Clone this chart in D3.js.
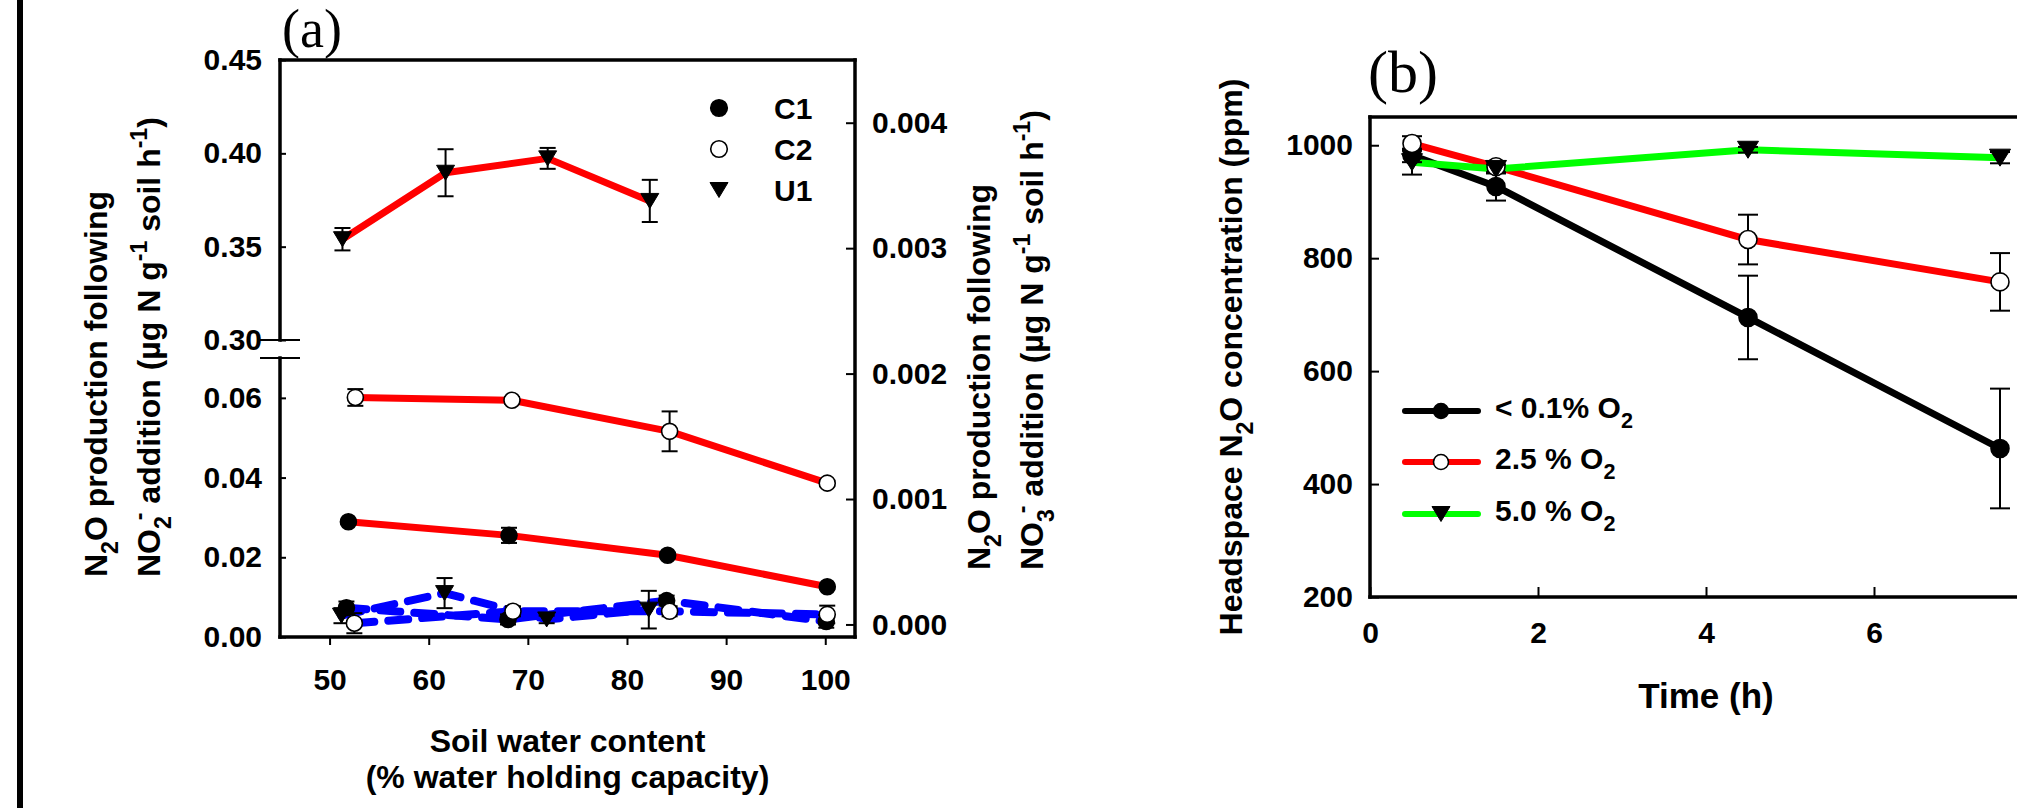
<!DOCTYPE html>
<html><head><meta charset="utf-8">
<script src="https://cdn.jsdelivr.net/npm/d3@7"></script>
<style>
html,body{margin:0;padding:0;background:#fff;overflow:hidden}
svg{display:block}
text{font-family:"Liberation Sans",Arial,Helvetica,sans-serif;font-weight:bold;fill:#000}
</style></head><body>
<svg id="chart" width="2017" height="808"></svg>
<script>
// ---------------- DATA : panel (a) ----------------
const xTicksA = [50, 60, 70, 80, 90, 100];
const yTicksUpper = [0.30, 0.35, 0.40, 0.45];
const yTicksLower = [0.00, 0.02, 0.04, 0.06];
const yTicksRight = [0.000, 0.001, 0.002, 0.003, 0.004];
const legendA = ["C1", "C2", "U1"];

// N2O following NO2- addition (left axis, red solid)
const no2C1x = [51.9, 68.1, 84.1, 100.2];
const no2C1y = [0.0289, 0.0255, 0.0205, 0.0126];
const no2C1e = [0.0005, 0.0019, 0.0006, 0.0005];
const no2C2x = [52.6, 68.4, 84.3, 100.2];
const no2C2y = [0.0601, 0.0594, 0.0516, 0.0386];
const no2C2e = [0.0021, 0.0008, 0.0050, 0.0006];
const no2U1x = [51.3, 61.7, 72.0, 82.3];
const no2U1y = [0.354, 0.3896, 0.3973, 0.3745];
const no2U1e = [0.0060, 0.0126, 0.0056, 0.0113];

// N2O following NO3- addition (right axis, blue dashed)
const no3C1x = [51.7, 68.0, 84.0, 100.1];
const no3C1y = [0.000133, 0.00004, 0.00019, 0.000024];
const no3C1e = [0.00005, 0.00004, 0.00004, 0.00005];
const no3C2x = [52.5, 68.5, 84.3, 100.2];
const no3C2y = [0.00001, 0.000105, 0.000105, 0.00008];
const no3C2e = [0.00008, 0.00004, 0.00004, 0.00007];
const no3U1x = [51.2, 61.6, 71.9, 82.2];
const no3U1y = [0.00007, 0.00025, 0.00004, 0.000118];
const no3U1e = [0.00006, 0.00012, 0.00003, 0.00015];

// ---------------- DATA : panel (b) ----------------
const xTicksB = [0, 2, 4, 6];
const yTicksB = [200, 400, 600, 800, 1000];
const timeH = [0.5, 1.5, 4.5, 7.5];
const o2Low = [982, 927, 695, 463];
const o2LowErr = [12, 25, 74, 106];
const o2Mid = [1003, 962, 833, 758];
const o2MidErr = [13, 10, 44, 51];
const o2High = [970, 958, 992, 978];
const o2HighErr = [22, 8, 5, 10];
const legendB = [["< 0.1% O", "2"], ["2.5 % O", "2"], ["5.0 % O", "2"]];

// ---------------- DRAWING ----------------
const W = 2017, H = 808;
const svg = d3.select("#chart");
const FONT = 30;

svg.append("rect").attr("x", 17).attr("y", 0).attr("width", 6).attr("height", H).attr("fill", "#000");

function rich(textSel, parts, size) {
  let cur = 0;
  parts.forEach(p => {
    const str = p[0], kind = p[1] || "n", dx = p[2];
    let off = 0, fs = size;
    if (kind === "sub") { off = size * 0.34; fs = size * 0.72; }
    if (kind === "sup") { off = -size * 0.40; fs = size * 0.72; }
    const ts = textSel.append("tspan").text(str).attr("font-size", fs).attr("dy", off - cur);
    if (dx) ts.attr("dx", dx);
    cur = off;
  });
}

const triPath = (w, h) => `M${-w/2},${-h/2}L${w/2},${-h/2}L0,${h/2}Z`;

function drawSeries(g, xs, ys, es, xScale, yScale, opt) {
  const pts = xs.map((x, i) => ({x, y: ys[i], e: es[i]}));
  const line = d3.line().x(d => xScale(d.x)).y(d => yScale(d.y));
  const path = g.append("path").datum(pts).attr("d", line)
    .attr("fill", "none").attr("stroke", opt.color).attr("stroke-width", opt.lw)
    .attr("stroke-linejoin", "round");
  if (opt.dash) path.attr("stroke-dasharray", opt.dash).attr("stroke-linecap", "round");
  return pts;
}
function drawErr(g, pts, xScale, yScale, cap) {
  const eg = g.append("g").attr("stroke", "#000").attr("stroke-width", 2);
  pts.forEach(d => {
    const x = xScale(d.x), y1 = yScale(d.y - d.e), y2 = yScale(d.y + d.e);
    eg.append("line").attr("x1", x).attr("x2", x).attr("y1", y1).attr("y2", y2);
    eg.append("line").attr("x1", x - cap/2).attr("x2", x + cap/2).attr("y1", y1).attr("y2", y1);
    eg.append("line").attr("x1", x - cap/2).attr("x2", x + cap/2).attr("y1", y2).attr("y2", y2);
  });
}
function drawMarkers(g, pts, xScale, yScale, type, sz) {
  pts.forEach(d => appendMarker(g, xScale(d.x), yScale(d.y), type, sz));
}
function appendMarker(g, x, y, type, sz) {
  if (type === "tri") {
    g.append("path").attr("d", triPath(sz.tw, sz.th)).attr("transform", `translate(${x},${y})`)
      .attr("fill", "#000").attr("stroke", "#000").attr("stroke-width", 1);
  } else {
    g.append("circle").attr("cx", x).attr("cy", y).attr("r", sz.r)
      .attr("fill", type === "open" ? "#fff" : "#000").attr("stroke", "#000").attr("stroke-width", 1.6);
  }
}

// ======== Panel (a) ========
const aL = 280, aR = 855, aT = 60, aB = 637, brTop = 340, brBot = 358;
const xA = d3.scaleLinear().domain([45, 103]).range([aL, aR]);
const yUp = d3.scaleLinear().domain([0.30, 0.45]).range([brTop, aT]);
const yLo = d3.scaleLinear().domain([0, 0.07]).range([aB, brBot]);
const yR = d3.scaleLinear().domain([-0.0001, 0.0045]).range([aB, aT]);

const ga = svg.append("g");
function styleAxis(sel) {
  sel.select(".domain").remove();
  sel.selectAll(".tick line").attr("stroke", "#000").attr("stroke-width", 2);
  sel.selectAll(".tick text").attr("font-size", FONT).attr("font-family", null).attr("fill", "#000");
}
ga.append("g").attr("transform", `translate(0,${aB})`)
  .call(d3.axisBottom(xA).tickValues(xTicksA).tickSizeInner(8).tickSizeOuter(0).tickPadding(24))
  .call(styleAxis);
ga.append("g").attr("transform", `translate(${aL},0)`)
  .call(d3.axisLeft(yUp).tickValues(yTicksUpper).tickSizeInner(-6).tickSizeOuter(0).tickPadding(18).tickFormat(d3.format(".2f")))
  .call(styleAxis);
ga.append("g").attr("transform", `translate(${aL},0)`)
  .call(d3.axisLeft(yLo).tickValues(yTicksLower).tickSizeInner(-6).tickSizeOuter(0).tickPadding(18).tickFormat(d3.format(".2f")))
  .call(styleAxis);
ga.append("g").attr("transform", `translate(${aR},0)`)
  .call(d3.axisRight(yR).tickValues(yTicksRight).tickSizeInner(-9).tickSizeOuter(0).tickPadding(17).tickFormat(d3.format(".3f")))
  .call(styleAxis);

// frame with axis break
const fr = ga.append("g").attr("stroke", "#000").attr("stroke-width", 3.5).attr("stroke-linecap", "square");
fr.append("line").attr("x1", aL).attr("x2", aR).attr("y1", aT).attr("y2", aT);
fr.append("line").attr("x1", aR).attr("x2", aR).attr("y1", aT).attr("y2", aB);
fr.append("line").attr("x1", aL).attr("x2", aR).attr("y1", aB).attr("y2", aB);
fr.append("line").attr("x1", aL).attr("x2", aL).attr("y1", yUp.range()[1]).attr("y2", yUp.range()[0]);
fr.append("line").attr("x1", aL).attr("x2", aL).attr("y1", yLo.range()[1]).attr("y2", yLo.range()[0]);
const bk = ga.append("g").attr("stroke", "#000").attr("stroke-width", 2);
[yUp.range()[0], yLo.range()[1]].forEach(y => bk.append("line").attr("x1", aL - 20).attr("x2", aL + 20).attr("y1", y).attr("y2", y));

// series
const lines = ga.append("g");
const pC1 = drawSeries(lines, no2C1x, no2C1y, no2C1e, xA, yLo, {color: "#ff0000", lw: 7});
const pC2 = drawSeries(lines, no2C2x, no2C2y, no2C2e, xA, yLo, {color: "#ff0000", lw: 7});
const pU1 = drawSeries(lines, no2U1x, no2U1y, no2U1e, xA, yUp, {color: "#ff0000", lw: 7});
const dash = "20,14";
const qC1 = drawSeries(lines, no3C1x, no3C1y, no3C1e, xA, yR, {color: "#0000ff", lw: 8, dash});
const qC2 = drawSeries(lines, no3C2x, no3C2y, no3C2e, xA, yR, {color: "#0000ff", lw: 8, dash});
const qU1 = drawSeries(lines, no3U1x, no3U1y, no3U1e, xA, yR, {color: "#0000ff", lw: 8, dash});
const errs = ga.append("g");
[[pC1, yLo], [pC2, yLo], [pU1, yUp], [qC1, yR], [qC2, yR], [qU1, yR]].forEach(([p, ys]) => drawErr(errs, p, xA, ys, 16));
const mk = ga.append("g");
const szA = {r: 8, tw: 18, th: 15};
drawMarkers(mk, pU1, xA, yUp, "tri", szA);
drawMarkers(mk, qU1, xA, yR, "tri", szA);
drawMarkers(mk, pC1, xA, yLo, "fill", szA);
drawMarkers(mk, qC1, xA, yR, "fill", szA);
drawMarkers(mk, pC2, xA, yLo, "open", szA);
drawMarkers(mk, qC2, xA, yR, "open", szA);

// legend (a)
const legAy = [108, 149, 190], legTypes = ["fill", "open", "tri"];
legendA.forEach((name, i) => {
  appendMarker(ga, 719, legAy[i], legTypes[i], {r: 8.3, tw: 18, th: 15});
  ga.append("text").attr("x", 774).attr("y", legAy[i] + 11).attr("font-size", FONT).text(name);
});

// titles (a)
ga.append("text").attr("x", 282).attr("y", 47).attr("font-size", 54)
  .style("font-family", '"Liberation Serif","Times New Roman",serif').style("font-weight", "normal").text("(a)");
const xt = ga.append("text").attr("text-anchor", "middle").attr("font-size", 32);
xt.append("tspan").attr("x", (aL + aR) / 2).attr("y", 752).text("Soil water content");
xt.append("tspan").attr("x", (aL + aR) / 2).attr("y", 788).text("(% water holding capacity)");

function yTitle(x, y, parts) {
  const t = ga.append("text").attr("transform", `translate(${x},${y}) rotate(-90)`).attr("font-size", 32);
  rich(t, parts, 32);
  return t;
}
yTitle(107, 577, [["N"], ["2", "sub"], ["O production following"]]);
yTitle(160, 577, [["NO"], ["2", "sub"], ["-", "sup", -4], [" addition (µg N g"], ["-1", "sup"], [" soil h"], ["-1", "sup"], [")"]]);
yTitle(990, 570, [["N"], ["2", "sub"], ["O production following"]]);
yTitle(1043, 570, [["NO"], ["3", "sub"], ["-", "sup", -4], [" addition (µg N g"], ["-1", "sup"], [" soil h"], ["-1", "sup"], [")"]]);

// ======== Panel (b) ========
const bL = 1370, bR = 2042, bT = 117, bB = 597;
const xB = d3.scaleLinear().domain([0, 8]).range([bL, bR]);
const yB = d3.scaleLinear().domain([200, 1050]).range([bB, bT]);
const gb = svg.append("g");
gb.append("g").attr("transform", `translate(0,${bB})`)
  .call(d3.axisBottom(xB).tickValues(xTicksB).tickSizeInner(-10).tickSizeOuter(0).tickPadding(25).tickFormat(d3.format("d")))
  .call(styleAxis);
gb.append("g").attr("transform", `translate(${bL},0)`)
  .call(d3.axisLeft(yB).tickValues(yTicksB).tickSizeInner(-9).tickSizeOuter(0).tickPadding(17).tickFormat(d3.format("d")))
  .call(styleAxis);
const frb = gb.append("g").attr("stroke", "#000").attr("stroke-width", 3.5).attr("stroke-linecap", "square");
frb.append("line").attr("x1", bL).attr("x2", bR).attr("y1", bT).attr("y2", bT);
frb.append("line").attr("x1", bL).attr("x2", bL).attr("y1", bT).attr("y2", bB);
frb.append("line").attr("x1", bL).attr("x2", bR).attr("y1", bB).attr("y2", bB);
frb.append("line").attr("x1", bR).attr("x2", bR).attr("y1", bT).attr("y2", bB);

const lb = gb.append("g");
const sLow = drawSeries(lb, timeH, o2Low, o2LowErr, xB, yB, {color: "#000", lw: 7});
const sMid = drawSeries(lb, timeH, o2Mid, o2MidErr, xB, yB, {color: "#ff0000", lw: 7});
const sHigh = drawSeries(lb, timeH, o2High, o2HighErr, xB, yB, {color: "#00ff00", lw: 7});
const eb = gb.append("g");
[sLow, sMid, sHigh].forEach(p => drawErr(eb, p, xB, yB, 20));
const mb = gb.append("g");
const szB = {r: 9, tw: 21, th: 17};
drawMarkers(mb, sLow, xB, yB, "fill", szB);
drawMarkers(mb, sMid, xB, yB, "open", szB);
drawMarkers(mb, sHigh, xB, yB, "tri", szB);

// legend (b)
const legBy = [411, 462, 514], legBcol = ["#000", "#ff0000", "#00ff00"], legBtype = ["fill", "open", "tri"];
legendB.forEach((lab, i) => {
  gb.append("line").attr("x1", 1405).attr("x2", 1478).attr("y1", legBy[i]).attr("y2", legBy[i])
    .attr("stroke", legBcol[i]).attr("stroke-width", 6).attr("stroke-linecap", "round");
  appendMarker(gb, 1441, legBy[i], legBtype[i], {r: 7.5, tw: 18, th: 15});
  const t = gb.append("text").attr("x", 1495).attr("y", legBy[i] + 7).attr("font-size", FONT);
  rich(t, [[lab[0]], [lab[1], "sub"]], FONT);
});

gb.append("text").attr("x", 1368).attr("y", 92).attr("font-size", 60)
  .style("font-family", '"Liberation Serif","Times New Roman",serif').style("font-weight", "normal").text("(b)");
gb.append("text").attr("x", xB(4)).attr("y", 708).attr("text-anchor", "middle").attr("font-size", 35).text("Time (h)");
const ybt = gb.append("text").attr("transform", `translate(1242,${(bT + bB) / 2}) rotate(-90)`)
  .attr("text-anchor", "middle").attr("font-size", 32);
rich(ybt, [["Headspace N"], ["2", "sub"], ["O concentration (ppm)"]], 32);
</script>
</body></html>
